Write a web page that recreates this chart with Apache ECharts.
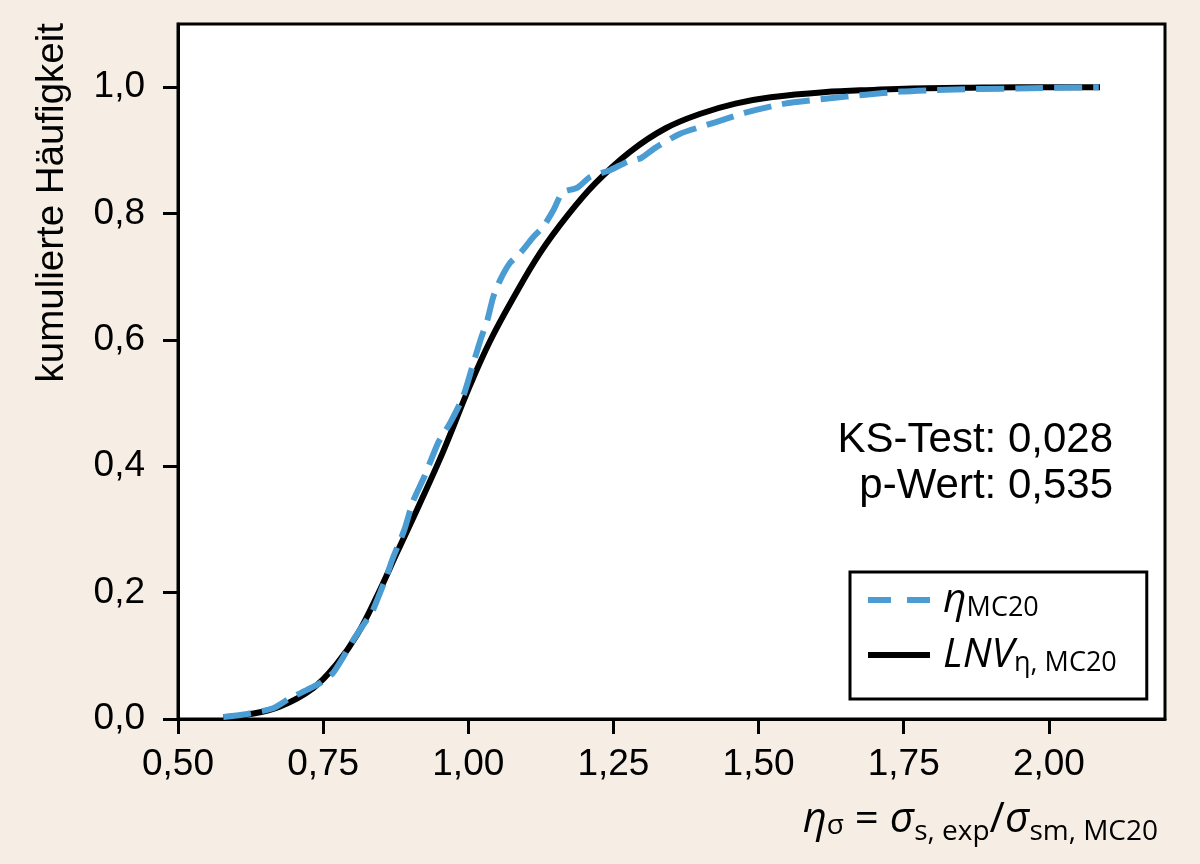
<!DOCTYPE html>
<html><head><meta charset="utf-8">
<script src="https://cdn.jsdelivr.net/npm/echarts@6/dist/echarts.min.js"></script>
<style>html,body{margin:0;padding:0;background:#f6eee5;} #c{width:1200px;height:864px;}</style>
</head><body><div id="c"></div>
<script>
const etaX = [0.578, 0.619, 0.664, 0.693, 0.722, 0.745, 0.767, 0.784, 0.802, 0.817, 0.834, 0.845, 0.860, 0.869, 0.890, 0.905, 0.925, 0.948, 0.969, 0.991, 1.009, 1.021, 1.033, 1.043, 1.055, 1.072, 1.090, 1.112, 1.129, 1.147, 1.162, 1.188, 1.210, 1.245, 1.274, 1.298, 1.322, 1.364, 1.424, 1.479, 1.545, 1.619, 1.684, 1.745, 1.824, 1.945, 2.086];
const etaY = [0.003, 0.008, 0.017, 0.033, 0.046, 0.057, 0.073, 0.097, 0.125, 0.146, 0.169, 0.193, 0.228, 0.252, 0.300, 0.345, 0.385, 0.437, 0.469, 0.510, 0.564, 0.600, 0.632, 0.668, 0.695, 0.722, 0.738, 0.763, 0.779, 0.806, 0.833, 0.841, 0.858, 0.869, 0.882, 0.888, 0.904, 0.926, 0.944, 0.960, 0.974, 0.982, 0.988, 0.993, 0.996, 0.998, 1.000];
// Lognormal fit (black)
const lnvX = [0.578, 0.620, 0.676, 0.733, 0.774, 0.809, 0.843, 0.878, 0.915, 0.957, 1.003, 1.038, 1.078, 1.124, 1.171, 1.219, 1.279, 1.340, 1.400, 1.460, 1.521, 1.612, 1.703, 1.764, 1.850, 1.950, 2.088];
const lnvY = [0.003, 0.007, 0.020, 0.049, 0.088, 0.134, 0.195, 0.265, 0.338, 0.424, 0.528, 0.599, 0.667, 0.738, 0.797, 0.848, 0.898, 0.935, 0.958, 0.974, 0.984, 0.992, 0.996, 0.998, 0.999, 1.000, 1.000];
const xTicks = [0.5, 0.75, 1.0, 1.25, 1.5, 1.75, 2.0];
const yTicks = [0.0, 0.2, 0.4, 0.6, 0.8, 1.0];
const ksLines = ['KS-Test: 0,028', 'p-Wert: 0,535'];
const yTitle = 'kumulierte Häufigkeit';

const pair = (xs, ys) => xs.map((x, i) => [x, ys[i]]);
const mathFont = 'Open Sans';
const tickFont = 'Liberation Sans';

const chart = echarts.init(document.getElementById('c'), null, {renderer: 'canvas'});
chart.setOption({
  animation: false,
  backgroundColor: '#f6eee5',
  grid: {left: 178, right: 35, top: 24, bottom: 145, show: true, backgroundColor: '#fff', borderColor: '#000', borderWidth: 3},
  xAxis: {
    type: 'value', min: 0.5, max: 2.2, interval: 0.25,
    axisLine: {show: true, lineStyle: {color: '#000', width: 3}},
    axisTick: {show: true, length: 15, lineStyle: {color: '#000', width: 3}, customValues: xTicks},
    axisLabel: {customValues: xTicks, margin: 27, color: '#000', fontFamily: tickFont, fontSize: 37,
      formatter: v => v.toFixed(2).replace('.', ',')},
    splitLine: {show: false}
  },
  yAxis: {
    type: 'value', min: 0, max: 1.1, interval: 0.2,
    axisLine: {show: true, lineStyle: {color: '#000', width: 3}},
    axisTick: {show: true, length: 15, lineStyle: {color: '#000', width: 3}, customValues: yTicks},
    axisLabel: {customValues: yTicks, margin: 33, color: '#000', fontFamily: tickFont, fontSize: 37,
      formatter: v => v.toFixed(1).replace('.', ',')},
    splitLine: {show: false}
  },
  legend: {
    orient: 'vertical', left: 850, top: 572,
    padding: [8, 30, 22, 15], itemGap: 13,
    itemWidth: 62, itemHeight: 20,
    backgroundColor: '#fff', borderColor: '#000', borderWidth: 3, borderRadius: 0,
    itemStyle: {opacity: 0},
    data: [
      {name: 'eta', lineStyle: {type: [23, 16], width: 6}},
      {name: 'lnv', lineStyle: {width: 6}}
    ],
    formatter: n => n === 'eta' ? '{li|η}{ls|MC20}' : '{li|LNV}{ls|η, MC20}',
    textStyle: {
      color: '#000',
      rich: {
        li: {fontFamily: mathFont, fontStyle: 'italic', fontSize: 41, lineHeight: 40, verticalAlign: 'top', padding: [0, 0, 0, 8], color: '#000'},
        ls: {fontFamily: mathFont, fontSize: 27, lineHeight: 27, verticalAlign: 'top', padding: [15, 0, 0, 0], color: '#000'}
      }
    }
  },
  series: [
    {name: 'lnv', type: 'line', data: pair(lnvX, lnvY), symbol: 'none', smooth: 0.4,
      lineStyle: {color: '#000', width: 6}, itemStyle: {color: '#000'}, z: 2},
    {name: 'eta', type: 'line', data: pair(etaX, etaY), symbol: 'none', smooth: 0.2,
      lineStyle: {color: '#4b9cd3', width: 6, type: [28, 11], cap: 'butt'}, itemStyle: {color: '#4b9cd3'}, z: 3}
  ],
  graphic: [
    {type: 'text', x: 52, y: 23, rotation: Math.PI / 2,
      style: {text: yTitle, align: 'right', verticalAlign: 'middle', fontFamily: tickFont, fontSize: 38.5, fill: '#000'}},
    {type: 'text', x: 1113, y: 417,
      style: {text: ksLines.join('\n'), align: 'right', verticalAlign: 'top', fontFamily: tickFont, fontSize: 42, lineHeight: 46, fill: '#000'}},
    {type: 'text', x: 1158, y: 799,
      style: {
        text: '{mi|η}{s0|σ}{mn| = }{mi|σ}{s1|s, exp}{mn|/}{mi|σ}{s1|sm, MC20}',
        align: 'right', verticalAlign: 'top', fill: '#000',
        rich: {
          mi: {fontFamily: mathFont, fontStyle: 'italic', fontSize: 42, lineHeight: 40, verticalAlign: 'top', fill: '#000'},
          mn: {fontFamily: mathFont, fontSize: 42, lineHeight: 40, verticalAlign: 'top', fill: '#000'},
          s0: {fontFamily: mathFont, fontSize: 28, lineHeight: 28, verticalAlign: 'top', padding: [13, 0, 0, 0], fill: '#000'},
          s1: {fontFamily: mathFont, fontSize: 28, lineHeight: 28, verticalAlign: 'top', padding: [19, 0, 0, 0], fill: '#000'}
        }
      }}
  ]
});
</script>
</body></html>
